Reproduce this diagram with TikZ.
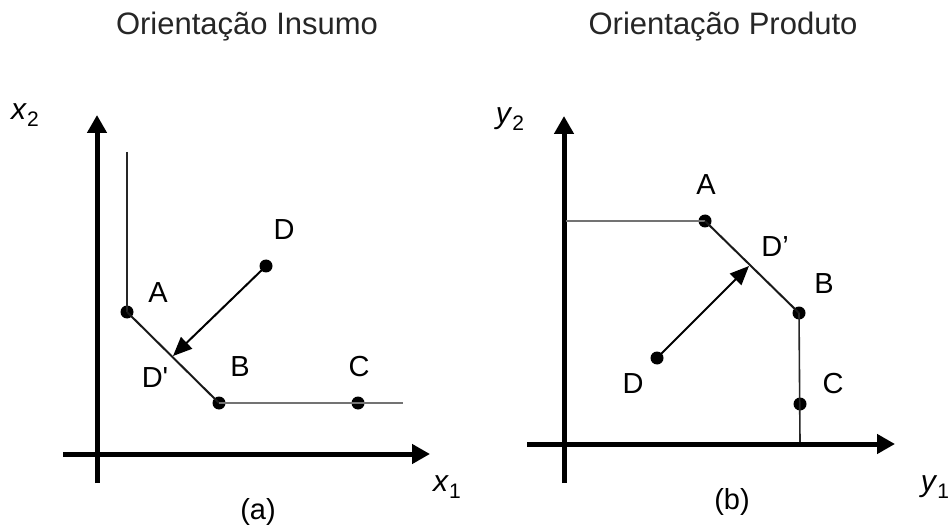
\documentclass[tikz,border=0pt]{standalone}
\usepackage{fontspec}
\setmainfont{Liberation Sans}
\usetikzlibrary{arrows.meta}
\newcommand{\axlab}[2]{\textit{#1}\raisebox{-0.25em}{\fontsize{21}{21}\selectfont #2}}
\begin{document}
\begin{tikzpicture}[x=1pt,y=-1pt,
  axis/.style={line width=5pt,-{Triangle[length=18pt,width=19pt]}},
  thinblack/.style={line width=1.6pt,black!85},
  thingray/.style={line width=2pt,black!55},
  frontier/.style={line width=2pt,black!90},
  proj/.style={line width=2pt,-{Triangle[length=19pt,width=16pt]}},
  dot/.style={circle,fill=black,inner sep=0pt,minimum size=13pt},
  lbl/.style={font=\fontsize{29}{33}\selectfont,inner sep=0pt},
  axl/.style={font=\fontsize{30}{34}\selectfont,inner sep=0pt},
  ttl/.style={font=\fontsize{31}{36}\selectfont,inner sep=0pt,text=black!85}
]
\useasboundingbox (0,0) rectangle (952,526);
\fill[white] (0,0) rectangle (952,526);

% ---------- Left panel ----------
\node[ttl] (t1) at (247,27) {Orientação Insumo};
\coordinate (yaB) at (97,483);
\coordinate (yaT) at (97,115);
\coordinate (xaL) at (63,454);
\coordinate (xaR) at (430,454);
\draw[axis] (yaB) -- (yaT);
\draw[axis] (xaL) -- (xaR);
\coordinate (Atop) at (127,152);
\node[dot] (A) at (127,312) {};
\node[dot] (B) at (219,403) {};
\node[dot] (C) at (358,403) {};
\coordinate (Cend) at (403,403);
\node[dot] (D) at (266,266) {};
\coordinate (Dp) at (173,356);
\draw[thinblack] (Atop) -- (A.center);
\draw[frontier] (A.center) -- (B.center);
\draw[thingray] (B.center) -- (Cend);
\draw[proj] (D.center) -- (Dp);
\node[axl] (lx2) at (25,115) {\axlab{x}{2}};
\node[lbl] (lA) at (158,293) {A};
\node[lbl] (lD) at (284,230) {D};
\node[lbl] (lDp) at (155,378) {D\textquotesingle};
\node[lbl] (lB) at (240,367) {B};
\node[lbl] (lC) at (359,367) {C};
\node[axl] (lx1) at (447,487) {\axlab{x}{1}};
\node[lbl] (la) at (258,512) {(a)};

% ---------- Right panel ----------
\node[ttl] (t2) at (723,27) {Orientação Produto};
\coordinate (ybB) at (564,483);
\coordinate (ybT) at (564,116);
\coordinate (xbL) at (527,444);
\coordinate (xbR) at (895,444);
\draw[axis] (ybB) -- (ybT);
\draw[axis] (xbL) -- (xbR);
\coordinate (Aleft) at (566,221);
\node[dot] (A2) at (705,221) {};
\node[dot] (B2) at (799,313) {};
\node[dot] (C2) at (800,404) {};
\coordinate (Cbot) at (800,442);
\node[dot] (D2) at (657,358) {};
\coordinate (Dp2) at (749,266);
\draw[thingray] (Aleft) -- (A2.center);
\draw[frontier] (A2.center) -- (B2.center);
\draw[thinblack] (B2.center) -- (Cbot);
\draw[proj] (D2.center) -- (Dp2);
\node[axl] (ly2) at (510,119) {\axlab{y}{2}};
\node[lbl] (lA2) at (706,185) {A};
\node[lbl] (lDp2) at (775,247) {D’};
\node[lbl] (lB2) at (824,284) {B};
\node[lbl] (lC2) at (833,384) {C};
\node[lbl] (lD2) at (633,384) {D};
\node[axl] (ly1) at (935,487) {\axlab{y}{1}};
\node[lbl] (lb) at (732,502) {(b)};
\end{tikzpicture}
\end{document}
